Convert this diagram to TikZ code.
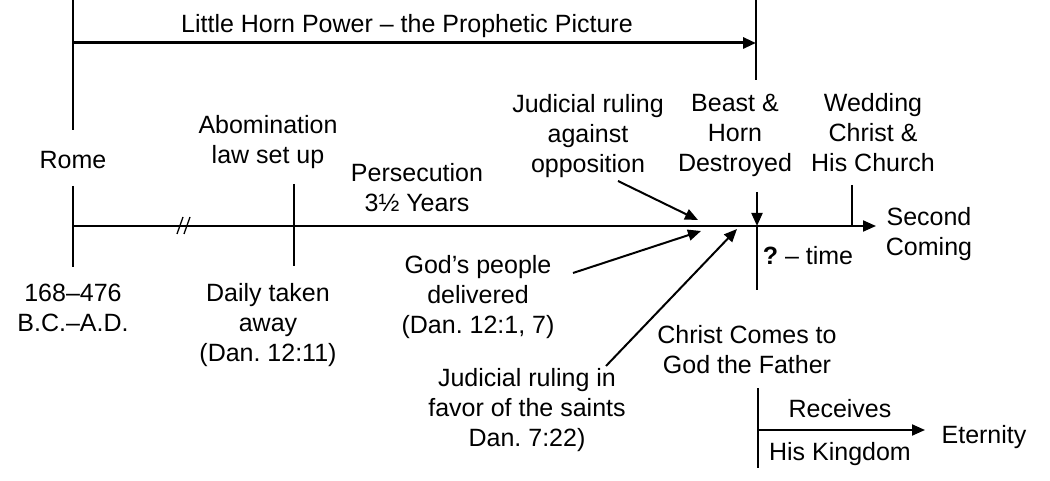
\documentclass[tikz,border=0pt]{standalone}
\usepackage{fontspec}
\setmainfont{Liberation Sans}
\usetikzlibrary{arrows.meta}
\frenchspacing
\begin{document}
\begin{tikzpicture}[x=1pt,y=-1pt,
  lbl/.style={font=\fontsize{25}{30}\selectfont, align=center, inner sep=0pt,
    execute at begin node=\strut, execute at end node=\strut},
  ln/.style={line width=2pt},
  arr/.style={line width=2pt,-{Triangle[length=13pt,width=11pt]}},
  bigarr/.style={line width=3pt,-{Triangle[length=13pt,width=11pt]}},
  brk/.style={line width=1.3pt},
]
\useasboundingbox (0,0) rectangle (1050,481);
% labels
\node[lbl] (title) at (407,27) {Little Horn Power – the Prophetic Picture};
\node[lbl] (rome) at (73,163) {Rome};
\node[lbl] (abom) at (268,144) {Abomination\\law set up};
\node[lbl] (pers) at (417,192) {Persecution\\3½ Years};
\node[lbl] (jra) at (588,138) {Judicial ruling\\against\\opposition};
\node[lbl] (beast) at (735,137) {Beast \&\\Horn\\Destroyed};
\node[lbl] (wed) at (873,137) {Wedding\\Christ \&\\His Church};
\node[lbl] (second) at (929,236) {Second\\Coming};
\node[lbl] (years) at (73,312) {168–476\\B.C.–A.D.};
\node[lbl] (daily) at (268,327) {Daily taken\\away\\(Dan. 12:11)};
\node[lbl] (gods) at (478,299) {God’s people\\delivered\\(Dan. 12:1, 7)};
\node[lbl] (qtime) at (808,259) {\textbf{?} – time};
\node[lbl] (ccg) at (747,354) {Christ Comes to\\God the Father};
\node[lbl] (jrf) at (527,412) {Judicial ruling in\\favor of the saints\\Dan. 7:22)};
\node[lbl] (recv) at (840,411) {Receives};
\node[lbl] (kingdom) at (840,454) {His Kingdom};
\node[lbl] (etern) at (984,437) {Eternity};
% coordinates
\coordinate (lt) at (73,0);
\coordinate (lb) at (73,130);
\coordinate (rt) at (756,0);
\coordinate (rb) at (756,80);
\coordinate (ta) at (73,43);
\coordinate (tb) at (756,43);
\coordinate (m0) at (73,226);
\coordinate (m1) at (876,226);
\coordinate (rt1) at (73,186);
\coordinate (rt2) at (73,267);
\coordinate (at1) at (294,184);
\coordinate (at2) at (294,266);
\coordinate (bd1) at (757,192);
\coordinate (bd2) at (757,226);
\coordinate (bd3) at (757,290);
\coordinate (wt1) at (852,185);
\coordinate (wt2) at (852,226);
\coordinate (s1a) at (177,234);
\coordinate (s1b) at (183,217);
\coordinate (s2a) at (184,234);
\coordinate (s2b) at (190,217);
\coordinate (o1) at (618,181);
\coordinate (o2) at (698,220);
\coordinate (g1) at (573,273);
\coordinate (g2) at (701,231);
\coordinate (f1) at (606,366);
\coordinate (f2) at (737,229);
\coordinate (k1) at (758,388);
\coordinate (k2) at (758,468);
\coordinate (ka) at (758,430);
\coordinate (kb) at (925,430);
% lines
\draw[ln] (lt) -- (lb);
\draw[ln] (rt) -- (rb);
\draw[bigarr] (ta) -- (tb);
\draw[arr] (m0) -- (m1);
\draw[ln] (rt1) -- (rt2);
\draw[ln] (at1) -- (at2);
\draw[arr] (bd1) -- (bd2);
\draw[ln] (bd2) -- (bd3);
\draw[ln] (wt1) -- (wt2);
\draw[brk] (s1a) -- (s1b);
\draw[brk] (s2a) -- (s2b);
\draw[arr] (o1) -- (o2);
\draw[arr] (g1) -- (g2);
\draw[arr] (f1) -- (f2);
\draw[ln] (k1) -- (k2);
\draw[arr] (ka) -- (kb);
\end{tikzpicture}
\end{document}
